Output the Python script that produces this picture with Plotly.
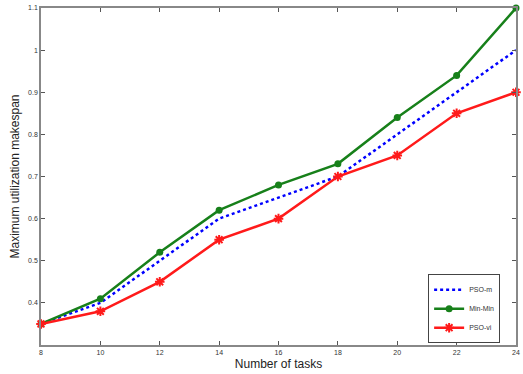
import plotly.graph_objects as go

tasks = [8, 10, 12, 14, 16, 18, 20, 22, 24]
pso_m = [0.35, 0.40, 0.50, 0.60, 0.65, 0.70, 0.80, 0.90, 1.00]
min_min = [0.35, 0.41, 0.52, 0.62, 0.68, 0.73, 0.84, 0.94, 1.10]
pso_vi = [0.35, 0.38, 0.45, 0.55, 0.60, 0.70, 0.75, 0.85, 0.90]
x_ticks = [8, 10, 12, 14, 16, 18, 20, 22, 24]
y_ticks = [0.4, 0.5, 0.6, 0.7, 0.8, 0.9, 1.0, 1.1]
y_tick_labels = ["0.4", "0.5", "0.6", "0.7", "0.8", "0.9", "1", "1.1"]

fig = go.Figure()
fig.add_trace(go.Scatter(x=tasks, y=pso_m, name="PSO-m", mode="lines", cliponaxis=False,
                         line=dict(color="#0000ff", width=2.5, dash="dot")))
fig.add_trace(go.Scatter(x=tasks, y=min_min, name="Min-Min", mode="lines+markers", cliponaxis=False,
                         line=dict(color="#17801a", width=2.5),
                         marker=dict(symbol="circle", size=7, color="#17801a")))
fig.add_trace(go.Scatter(x=tasks, y=pso_vi, name="PSO-vi", mode="lines+markers", cliponaxis=False,
                         line=dict(color="#ff1a1a", width=2.5),
                         marker=dict(symbol="asterisk-open", size=8,
                                     line=dict(color="#ff1a1a", width=2))))

axis_common = dict(showline=True, linecolor="#888888", linewidth=1.5, mirror="ticks",
                   ticks="inside", ticklen=4, tickcolor="#555555", showgrid=False,
                   zeroline=False, automargin=False,
                   tickfont=dict(family="Arial", size=7, color="#333333"))

fig.update_layout(
    width=523, height=374,
    margin=dict(l=41, r=7, t=8, b=29),
    paper_bgcolor="white", plot_bgcolor="white",
    xaxis=dict(range=[8, 24], tickvals=x_ticks,
               title=dict(text="Number of tasks", font=dict(family="Arial", size=12, color="#222222"),
                          standoff=4),
               **axis_common),
    yaxis=dict(range=[0.3, 1.1], tickvals=y_ticks, ticktext=y_tick_labels,
               title=dict(text="Maximum utilization makespan",
                          font=dict(family="Arial", size=12, color="#222222"), standoff=6),
               **axis_common),
    legend=dict(x=0.815, y=0.21, xanchor="left", yanchor="top",
                bordercolor="#444444", borderwidth=1, bgcolor="white",
                font=dict(family="Arial", size=7, color="#333333"),
                tracegroupgap=0, itemwidth=30),
    showlegend=True,
)

fig.write_html("out.html", config={"displayModeBar": False},
               post_script="document.body.style.margin='0px';")
